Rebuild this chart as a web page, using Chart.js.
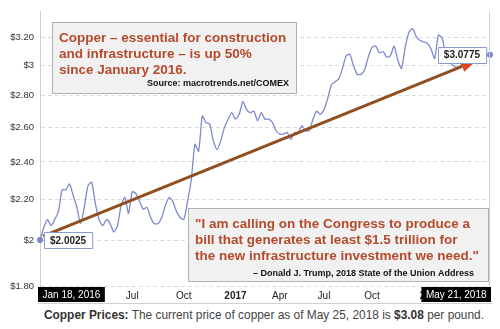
<!DOCTYPE html>
<html>
<head>
<meta charset="utf-8">
<script src="https://cdn.jsdelivr.net/npm/chart.js@4.4.1/dist/chart.umd.min.js"></script>
<style>
  body { margin: 0; background: #fff; width: 500px; height: 329px; overflow: hidden; }
  #wrap { position: relative; width: 500px; height: 305px; }
  #caption {
    font-family: 'Liberation Sans', Arial, sans-serif;
    font-size: 11.9px;
    color: #444;
    padding-left: 44px;
    line-height: 20px;
    white-space: nowrap;
  }
  #caption b { color: #333; }
</style>
</head>
<body>
<div id="wrap"><canvas id="copperChart"></canvas></div>
<div id="caption"><b>Copper Prices:</b> The current price of copper as of May 25, 2018 is <b>$3.08</b> per pound.</div>
<script>
// weekly COMEX copper close, $/lb, starting Jan 18, 2016
const firstWeek = [2016, 0, 18];
const prices = [
  2.0025, 2.06, 2.10, 2.07, 2.10, 2.14, 2.25, 2.25, 2.28, 2.22,
  2.16, 2.08, 2.16, 2.27, 2.29, 2.18, 2.10, 2.07, 2.10, 2.08,
  2.04, 2.07, 2.17, 2.21, 2.13, 2.24, 2.23, 2.19, 2.15, 2.16,
  2.11, 2.08, 2.08, 2.11, 2.17, 2.21, 2.19, 2.14, 2.11, 2.10,
  2.19, 2.30, 2.50, 2.46, 2.67, 2.63, 2.62, 2.52, 2.47, 2.52,
  2.60, 2.65, 2.69, 2.65, 2.68, 2.76, 2.71, 2.69, 2.70, 2.64,
  2.69, 2.65, 2.65, 2.63, 2.58, 2.56, 2.56, 2.57, 2.53, 2.57,
  2.57, 2.61, 2.58, 2.58, 2.65, 2.70, 2.68, 2.71, 2.78, 2.87,
  2.89, 2.91, 2.98, 3.07, 3.08, 3.00, 2.94, 2.94, 2.97, 3.06,
  3.13, 3.14, 3.09, 3.10, 3.06, 3.07, 3.14, 3.04, 2.98, 3.13,
  3.24, 3.27, 3.21, 3.18, 3.17, 3.16, 3.12, 3.05, 3.22, 3.20,
  3.08, 3.03, 3.00, 2.99, 3.00, 3.03, 3.05, 3.08, 3.07, 3.06,
  3.09, 3.08, 3.0775
];
const yTicks = [1.8, 2, 2.2, 2.4, 2.6, 2.8, 3, 3.2];
const yTickLabels = ['$1.80', '$2', '$2.20', '$2.40', '$2.60', '$2.80', '$3', '$3.20'];
const xTickWeeks = [25, 39, 53, 65, 77, 90, 106];
const xTickLabels = ['Jul', 'Oct', '2017', 'Apr', 'Jul', 'Oct', '2018'];

const monthNames = ['Jan', 'Feb', 'Mar', 'Apr', 'May', 'Jun', 'Jul', 'Aug', 'Sep', 'Oct', 'Nov', 'Dec'];
const weekLabels = prices.map((p, i) => {
  const d = new Date(firstWeek[0], firstWeek[1], firstWeek[2] + 7 * i);
  return monthNames[d.getMonth()] + ' ' + d.getDate() + ', ' + d.getFullYear();
});

const FONT = "'Liberation Sans', Arial, sans-serif";
const textRed = '#b54a2c';

function textBox(ctx, x, y, w, h) {
  ctx.fillStyle = 'rgba(240,240,240,0.95)';
  ctx.fillRect(x, y, w, h);
  ctx.strokeStyle = '#b0b0b0';
  ctx.lineWidth = 1;
  ctx.strokeRect(x + 0.5, y + 0.5, w, h);
}

function valueTag(ctx, x, y, text, pointRight) {
  ctx.font = 'bold 10px ' + FONT;
  const w = ctx.measureText(text).width + 12;
  const h = 16;
  const bx = pointRight ? x - w - 4 : x + 4;
  ctx.fillStyle = '#fff';
  ctx.strokeStyle = '#8c9ad0';
  ctx.lineWidth = 1;
  ctx.beginPath();
  ctx.rect(Math.round(bx) + 0.5, Math.round(y - h / 2) + 0.5, w, h);
  ctx.fill();
  ctx.stroke();
  ctx.fillStyle = '#222';
  ctx.textAlign = 'left';
  ctx.textBaseline = 'middle';
  ctx.fillText(text, bx + 6, y + 1);
}

const annotations = {
  id: 'annotations',
  afterDatasetsDraw(chart) {
    const ctx = chart.ctx;
    const meta = chart.getDatasetMeta(0);
    const p0 = meta.data[0];
    const pN = meta.data[meta.data.length - 1];
    ctx.save();

    // headline box
    textBox(ctx, 52, 22, 244, 71);
    ctx.fillStyle = textRed;
    ctx.font = 'bold 13.5px ' + FONT;
    ctx.textAlign = 'left';
    ctx.textBaseline = 'alphabetic';
    ctx.fillText('Copper \u2013 essential for construction', 59, 42);
    ctx.fillText('and infrastructure \u2013 is up 50%', 59, 58);
    ctx.fillText('since January 2016.', 59, 74);
    ctx.fillStyle = '#111';
    ctx.font = 'bold 9px ' + FONT;
    ctx.textAlign = 'right';
    ctx.fillText('Source: macrotrends.net/COMEX', 289, 86);

    // quote box
    textBox(ctx, 188, 208, 300, 73);
    ctx.fillStyle = textRed;
    ctx.font = 'bold 13.5px ' + FONT;
    ctx.textAlign = 'left';
    ctx.fillText('"I am calling on the Congress to produce a', 195, 228);
    ctx.fillText('bill that generates at least $1.5 trillion for', 195, 244);
    ctx.fillText('the new infrastructure investment we need."', 195, 260);
    ctx.fillStyle = '#111';
    ctx.font = 'bold 9px ' + FONT;
    ctx.textAlign = 'right';
    ctx.fillText('\u2013 Donald J. Trump, 2018 State of the Union Address', 474, 276);

    // arrow from first to last price
    const sx = p0.x + 3, sy = p0.y - 4;
    const ex = pN.x - 14, ey = pN.y + 6;
    const ang = Math.atan2(ey - sy, ex - sx);
    const headLen = 15, headW = 6;
    const bx = ex - headLen * Math.cos(ang), by = ey - headLen * Math.sin(ang);
    ctx.strokeStyle = '#8f4f20';
    ctx.lineWidth = 3;
    ctx.beginPath();
    ctx.moveTo(sx, sy);
    ctx.lineTo(bx, by);
    ctx.stroke();
    ctx.fillStyle = '#e2421d';
    ctx.beginPath();
    ctx.moveTo(ex, ey);
    ctx.lineTo(bx + headW * Math.sin(ang), by - headW * Math.cos(ang));
    ctx.lineTo(bx - headW * Math.sin(ang), by + headW * Math.cos(ang));
    ctx.closePath();
    ctx.fill();

    // first / last value tags
    valueTag(ctx, p0.x, p0.y, '$' + prices[0], false);
    valueTag(ctx, pN.x, pN.y, '$' + prices[prices.length - 1], true);
    ctx.fillStyle = '#7b84c9';
    [p0, pN].forEach(p => {
      ctx.beginPath();
      ctx.arc(p.x, p.y, 3, 0, Math.PI * 2);
      ctx.fill();
    });
    ctx.restore();
  },
  afterDraw(chart) {
    const ctx = chart.ctx;
    const area = chart.chartArea;
    ctx.save();
    ctx.strokeStyle = '#d0d0d0';
    ctx.lineWidth = 1;
    ctx.beginPath();
    ctx.moveTo(Math.round(area.right) - 0.5, area.top);
    ctx.lineTo(Math.round(area.right) - 0.5, area.bottom);
    ctx.moveTo(38, 303.5);
    ctx.lineTo(492, 303.5);
    ctx.stroke();

    // date boxes at both ends of the x axis
    ctx.font = '10px ' + FONT;
    ctx.textBaseline = 'middle';
    ctx.textAlign = 'center';
    [[0, 38], [weekLabels.length - 1, null]].forEach(([i, left]) => {
      const text = weekLabels[i];
      const w = ctx.measureText(text).width + 9;
      const x = left === null ? area.right - w + 1 : left;
      ctx.fillStyle = '#000';
      ctx.fillRect(x, 287, w, 15);
      ctx.fillStyle = '#fff';
      ctx.fillText(text, x + w / 2, 295);
    });
    ctx.restore();
  }
};

const copperCtx = document.getElementById('copperChart').getContext('2d');

new Chart(copperCtx, {
  type: 'line',
  data: {
    labels: weekLabels,
    datasets: [{
      data: prices,
      borderColor: 'rgb(124, 138, 205)',
      borderWidth: 1.3,
      pointRadius: 0,
      tension: 0.2,
      fill: false
    }]
  },
  options: {
    responsive: true,
    maintainAspectRatio: false,
    animation: false,
    layout: { padding: { top: 5, right: 10, left: 0, bottom: 0 } },
    plugins: {
      legend: { display: false },
      tooltip: { enabled: false }
    },
    scales: {
      x: {
        grid: { display: false, drawTicks: false },
        border: { display: false },
        afterFit: (scale) => { scale.height = 19; },
        ticks: {
          autoSkip: false,
          maxRotation: 0,
          padding: 4,
          color: '#222',
          font: (c) => ({
            family: FONT,
            size: 10,
            weight: c.tick && /^\d{4}$/.test(c.tick.label) ? 'bold' : 'normal'
          }),
          callback: (value, index) => {
            const k = xTickWeeks.indexOf(index);
            return k >= 0 ? xTickLabels[k] : '';
          }
        }
      },
      y: {
        type: 'logarithmic',
        min: 1.8,
        max: 3.4,
        afterFit: (scale) => { scale.width = 40; },
        afterBuildTicks: (scale) => { scale.ticks = yTicks.map(v => ({ value: v })); },
        grid: {
          color: '#dcdcdc',
          drawTicks: false
        },
        border: { display: true, color: '#cfcfcf', dash: [4, 3] },
        ticks: {
          padding: 6,
          color: '#333',
          font: { family: FONT, size: 9.5 },
          callback: (value, index) => yTickLabels[index]
        }
      }
    }
  },
  plugins: [annotations]
});
</script>
</body>
</html>
